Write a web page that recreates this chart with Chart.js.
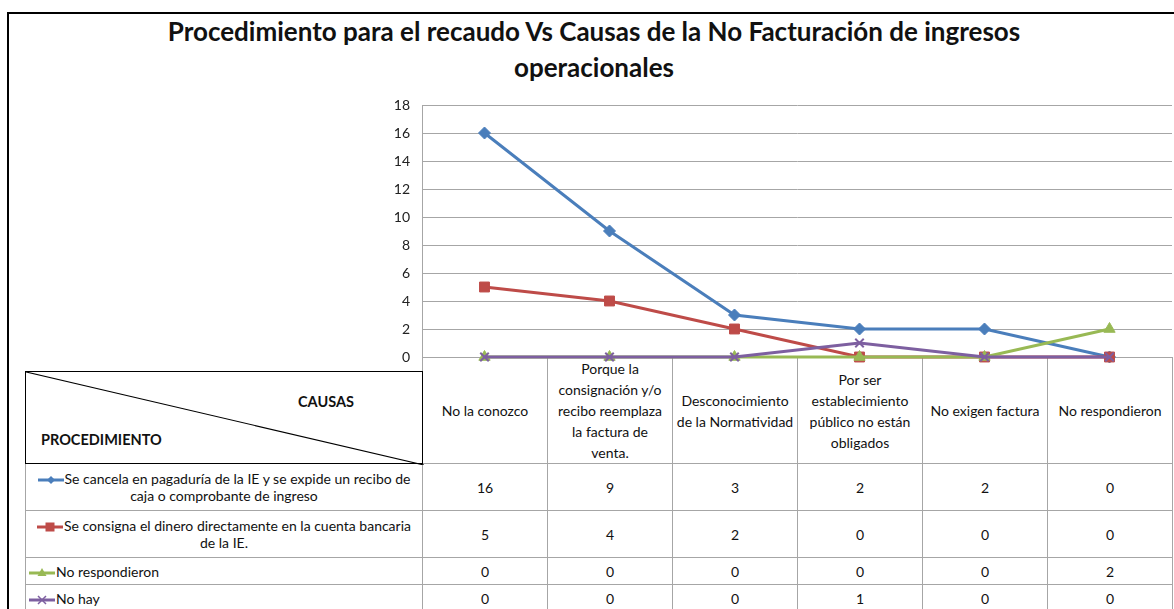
<!DOCTYPE html>
<html>
<head>
<meta charset="utf-8">
<script src="https://cdn.jsdelivr.net/npm/chart.js@4/dist/chart.umd.min.js"></script>
<style>
    body { margin: 0; background: #fff; font-family: Lato, "Open Sans", sans-serif; color: #111; }
    #page { position: relative; width: 1174px; height: 609px; overflow: hidden; }
    #marco { position: absolute; left: 7px; top: 12px; width: 1200px; height: 700px; border-left: 2px solid #000; border-top: 2px solid #000; }
    #titulo { position: absolute; left: 0; top: 13px; width: 1188px; text-align: center; font-weight: bold; font-size: 26px; line-height: 36px; }
    #grafico { position: absolute; left: 0; top: 0; z-index: 2; }
    .celda { position: absolute; box-sizing: border-box; border: 1px solid #a6a6a6; display: flex; align-items: center; justify-content: center; text-align: center; font-size: 14px; line-height: 21px; }
    .celda.nombre { line-height: 17px; padding: 0 3px; }
    .celda.nombre.izq { justify-content: flex-start; }
    #esquina { position: absolute; left: 25px; top: 371px; width: 398px; height: 93px; box-sizing: border-box; border: 1.5px solid #000; z-index: 1; background: #fff; }
    #esquina svg { position: absolute; left: 0; top: 0; }
    .rot { position: absolute; font-weight: bold; font-size: 14.5px; }
    .clave { vertical-align: middle; margin-right: 1px; }
</style>
</head>
<body>
<div id="page">
    <div id="marco"></div>
    <div id="titulo">Procedimiento para el recaudo Vs Causas de la No Facturación de ingresos<br>operacionales</div>
    <div id="tabla"></div>
    <div id="esquina">
        <svg width="398" height="93"><line x1="0" y1="0" x2="398" y2="93" stroke="#000" stroke-width="1.2"/></svg>
        <div class="rot" style="left:272px; top:21px;">CAUSAS</div>
        <div class="rot" style="left:15px; top:59px;">PROCEDIMIENTO</div>
    </div>
    <canvas id="grafico" width="1174" height="609"></canvas>
</div>
<script>
// Datos
const causas = [
    ['No la conozco'],
    ['Porque la', 'consignación y/o', 'recibo reemplaza', 'la factura de', 'venta.'],
    ['Desconocimiento', 'de la Normatividad'],
    ['Por ser', 'establecimiento', 'público no están', 'obligados'],
    ['No exigen factura'],
    ['No respondieron']
];
const nombresSeries = [
    ['Se cancela en pagaduría de la IE y se expide un recibo de', 'caja o comprobante de ingreso'],
    ['Se consigna el dinero directamente en la cuenta bancaria', 'de la IE.'],
    ['No respondieron'],
    ['No hay']
];
const cancelaPagaduria = [16, 9, 3, 2, 2, 0];
const consignaCuenta = [5, 4, 2, 0, 0, 0];
const noRespondieron = [0, 0, 0, 0, 0, 2];
const noHay = [0, 0, 0, 1, 0, 0];
const ejeY = { min: 0, max: 18, paso: 2 };

const colores = ['#4A7EBB', '#BE4B48', '#98B954', '#7D5FA0'];
const marcadores = ['rectRot', 'rect', 'triangle', 'crossRot'];
const radios = [6, 7, 6.5, 6];
const valores = [cancelaPagaduria, consignaCuenta, noRespondieron, noHay];

function claveSvg(i) {
    const c = colores[i];
    let forma = '';
    if (i === 0) forma = `<polygon points="13,1 17,5 13,9 9,5" fill="${c}"/>`;
    if (i === 1) forma = `<rect x="8.5" y="0.5" width="9" height="9" fill="${c}"/>`;
    if (i === 2) forma = `<polygon points="13,0 17.5,8 8.5,8" fill="${c}"/>`;
    if (i === 3) forma = `<path d="M9,1 L17,9 M17,1 L9,9" stroke="${c}" stroke-width="1.5"/>`;
    return `<svg class="clave" width="26" height="10"><line x1="0" y1="5" x2="26" y2="5" stroke="${c}" stroke-width="3"/>${forma}</svg>`;
}

function construirTabla() {
    const tabla = document.getElementById('tabla');
    const x0 = 422, ancho = 125;
    const filas = [[463, 510], [510, 557], [557, 584], [584, 612]];
    let html = '';
    causas.forEach((lineas, j) => {
        html += `<div class="celda" style="left:${x0 + j * ancho}px; top:357px; width:${ancho + 1}px; height:107px;">${lineas.join('<br>')}</div>`;
    });
    filas.forEach((f, i) => {
        const alto = f[1] - f[0] + 1;
        const texto = nombresSeries[i].map((l, k) => k === 0 ? claveSvg(i) + l : l).join('<br>');
        const clase = nombresSeries[i].length === 1 ? 'celda nombre izq' : 'celda nombre';
        html += `<div class="${clase}" style="left:25px; top:${f[0]}px; width:398px; height:${alto}px;"><div>${texto}</div></div>`;
        valores[i].forEach((v, j) => {
            html += `<div class="celda" style="left:${x0 + j * ancho}px; top:${f[0]}px; width:${ancho + 1}px; height:${alto}px;">${v}</div>`;
        });
    });
    tabla.innerHTML = html;
}

function configurarGrafico() {
    const ctx = document.getElementById('grafico').getContext('2d');
    new Chart(ctx, {
        type: 'line',
        data: {
            labels: causas.map(c => c.join(' ')),
            datasets: valores.map((serie, i) => ({
                label: nombresSeries[i].join(' '),
                data: serie,
                borderColor: colores[i],
                backgroundColor: colores[i],
                pointBackgroundColor: colores[i],
                pointBorderColor: colores[i],
                pointStyle: marcadores[i],
                pointRadius: radios[i],
                pointBorderWidth: i === 3 ? 2 : 1,
                borderWidth: 3,
                tension: 0,
                clip: false,
                order: 3 - i
            }))
        },
        options: {
            responsive: false,
            animation: false,
            layout: { autoPadding: false, padding: { top: 105, bottom: 252, left: 0, right: 2 } },
            plugins: { legend: { display: false }, tooltip: { enabled: false } },
            scales: {
                x: { type: 'category', offset: true, display: false },
                y: {
                    min: ejeY.min, max: ejeY.max,
                    afterFit: scale => { scale.width = 422; },
                    grid: { color: '#a6a6a6', lineWidth: 1, drawTicks: false },
                    border: { display: true, color: '#a6a6a6' },
                    ticks: { stepSize: ejeY.paso, padding: 12, color: '#222', font: { family: 'Lato', size: 14 } }
                }
            }
        }
    });
}

construirTabla();
configurarGrafico();
</script>
</body>
</html>
